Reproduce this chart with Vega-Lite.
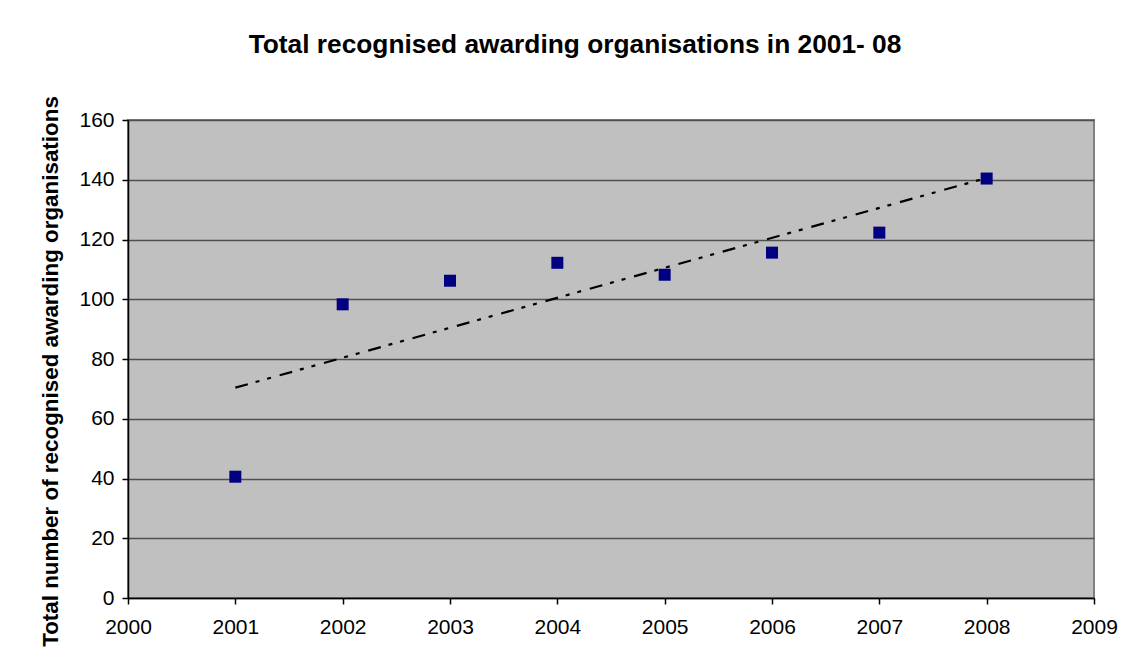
{
  "$schema": "https://vega.github.io/schema/vega-lite/v6.json",
  "width": 966,
  "height": 478,
  "autosize": {"type": "none"},
  "padding": {"left": 128, "top": 120, "right": 38, "bottom": 67},
  "background": "white",
  "title": {
    "text": "Total recognised awarding organisations in 2001- 08",
    "font": "Liberation Sans",
    "fontSize": 26.3,
    "fontWeight": "bold",
    "color": "black",
    "anchor": "middle",
    "frame": "group",
    "dx": -36,
    "baseline": "alphabetic",
    "offset": 16
  },
  "config": {
    "view": {"fill": "#C0C0C0", "stroke": "#808080", "strokeWidth": 2},
    "axis": {
      "labelFont": "Liberation Sans",
      "labelFontSize": 21,
      "labelColor": "black",
      "titleFont": "Liberation Sans",
      "titleColor": "black",
      "domainColor": "black",
      "tickColor": "black",
      "tickSize": 6,
      "domainWidth": 1.5,
      "tickWidth": 1.5
    }
  },
  "datasets": {
    "points": [
      {"year": 2001, "total": 40.6},
      {"year": 2002, "total": 98.3},
      {"year": 2003, "total": 106.2},
      {"year": 2004, "total": 112.2},
      {"year": 2005, "total": 108.2},
      {"year": 2006, "total": 115.6},
      {"year": 2007, "total": 122.3},
      {"year": 2008, "total": 140.4}
    ],
    "trend": [
      {"year": 2001, "total": 70.4},
      {"year": 2008, "total": 140.6}
    ]
  },
  "layer": [
    {
      "data": {"name": "trend"},
      "mark": {"type": "line", "color": "black", "strokeWidth": 2.2, "strokeDash": [13, 8, 4, 8, 4, 9]},
      "encoding": {
        "x": {
          "field": "year",
          "type": "quantitative",
          "scale": {"domain": [2000, 2009], "nice": false, "zero": false},
          "axis": {
            "values": [2000, 2001, 2002, 2003, 2004, 2005, 2006, 2007, 2008, 2009],
            "format": "d",
            "title": null,
            "grid": false,
            "labelPadding": 12,
            "labelFlush": false
          }
        },
        "y": {
          "field": "total",
          "type": "quantitative",
          "scale": {"domain": [0, 160], "nice": false},
          "axis": {
            "values": [0, 20, 40, 60, 80, 100, 120, 140, 160],
            "title": "Total number of recognised awarding organisations",
            "titleFontSize": 22.4,
            "titleFontWeight": "bold",
            "titleX": -71,
            "titleY": 251,
            "titleBaseline": "alphabetic",
            "grid": true,
            "gridColor": "#505050",
            "gridWidth": 1.5,
            "labelPadding": 8,
            "labelFlush": false
          }
        }
      }
    },
    {
      "data": {"name": "points"},
      "mark": {"type": "square", "color": "#000080", "opacity": 1, "size": 144},
      "encoding": {
        "x": {"field": "year", "type": "quantitative"},
        "y": {"field": "total", "type": "quantitative"}
      }
    }
  ]
}
